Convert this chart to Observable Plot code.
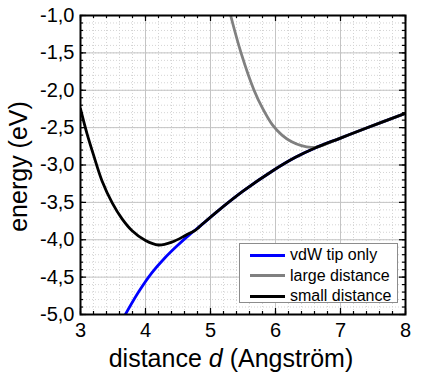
<!DOCTYPE html>
<html><head><meta charset="utf-8">
<script src="https://cdn.jsdelivr.net/npm/d3@7"></script>
<script src="https://cdn.jsdelivr.net/npm/@observablehq/plot@0.6"></script>
<style>
body{margin:0;background:#fff;}
#wrap{position:relative;width:436px;height:378px;font-family:"Liberation Sans",Arial,sans-serif;}
#legend{position:absolute;left:239px;top:243px;width:159px;height:60px;border:1px solid #8c8c8c;background:#fff;box-sizing:border-box;font-size:16px;color:#000;}
.row{position:absolute;left:10px;height:20px;display:flex;align-items:center;white-space:nowrap;}
.sw{width:35px;height:0;border-top:3px solid;margin-right:5px;}
</style></head><body><div id="wrap"></div>
<script>
// ---- data ----
const seriesNames = ["vdW tip only", "large distance", "small distance"];
const seriesColors = ["#0000ff", "#808080", "#000000"];

const blueX = [3.69, 3.9, 4.1, 4.3, 4.5, 4.7, 4.85, 5.12, 5.5, 5.97, 6.3, 6.6, 7.0, 7.4, 8.0];
const blueY = [-5.0, -4.69, -4.44, -4.24, -4.07, -3.915, -3.81, -3.61, -3.35, -3.07, -2.90, -2.775, -2.64, -2.505, -2.31];

const grayX = [5.31, 5.47, 5.67, 5.8, 5.95, 6.1, 6.25, 6.4, 6.55, 6.65, 7.0, 7.4, 8.0];
const grayY = [-1.0, -1.5, -2.0, -2.24, -2.46, -2.6, -2.69, -2.742, -2.765, -2.758, -2.64, -2.505, -2.31];

const blackX = [3.0, 3.1, 3.2, 3.33, 3.49, 3.64, 3.79, 4.0, 4.2, 4.41, 4.62, 4.77, 4.85, 5.12, 5.5, 5.97, 6.3, 6.6, 7.0, 7.4, 8.0];
const blackY = [-2.25, -2.58, -2.865, -3.21, -3.51, -3.72, -3.875, -4.01, -4.07, -4.03, -3.94, -3.87, -3.81, -3.61, -3.35, -3.07, -2.90, -2.775, -2.64, -2.505, -2.31];

const xMajor = [3, 4, 5, 6, 7, 8];
const xTickLabels = ["3", "4", "5", "6", "7", "8"];
const yMajor = [-5, -4.5, -4, -3.5, -3, -2.5, -2, -1.5, -1];
const yTickLabels = ["-5,0", "-4,5", "-4,0", "-3,5", "-3,0", "-2,5", "-2,0", "-1,5", "-1,0"];
const xMinor = d3.range(15, 41).map(i => i / 5);
const yMinor = d3.range(-50, -9).map(i => i / 10);

const xTitleParts = ["distance ", "d", " (Angström)"];
const xTitle = xTitleParts.join("");
const yTitle = "energy (eV)";

// ---- chart ----
const W = 436, H = 378, mL = 80, mR = 31, mT = 15, mB = 64;
const plotW = W - mL - mR, plotH = H - mT - mB;

const toRows = (xs, ys) => xs.map((x, i) => ({x, y: ys[i]}));
const series = [toRows(blueX, blueY), toRows(grayX, grayY), toRows(blackX, blackY)];

const gridMinor = {stroke: "#d4d4d4", strokeDasharray: "1,2", strokeWidth: 1};
const gridMajor = {stroke: "#c4c4c4", strokeWidth: 1};
const tk = {stroke: "black", strokeWidth: 1.2};

const chart = Plot.plot({
  width: W, height: H,
  marginLeft: mL, marginRight: mR, marginTop: mT, marginBottom: mB,
  style: {fontFamily: "'Liberation Sans', Arial, sans-serif", fontSize: "20px", background: "white", color: "black"},
  x: {domain: [3, 8]},
  y: {domain: [-5, -1]},
  marks: [
    Plot.ruleX(xMinor, gridMinor),
    Plot.ruleY(yMinor, gridMinor),
    Plot.ruleX(xMajor, gridMajor),
    Plot.ruleY(yMajor, gridMajor),
    ...series.map((s, i) => Plot.line(s, {x: "x", y: "y", stroke: seriesColors[i], strokeWidth: 2.8, curve: "catmull-rom", clip: true})),
    Plot.frame({stroke: "black", strokeWidth: 2}),
    // inward ticks
    Plot.ruleX(xMinor, {...tk, insetTop: plotH - 3}),
    Plot.ruleX(xMajor, {...tk, insetTop: plotH - 6}),
    Plot.ruleX(xMinor, {...tk, insetBottom: plotH - 3}),
    Plot.ruleX(xMajor, {...tk, insetBottom: plotH - 6}),
    Plot.ruleY(yMinor, {...tk, insetRight: plotW - 3}),
    Plot.ruleY(yMajor, {...tk, insetRight: plotW - 6}),
    Plot.ruleY(yMinor, {...tk, insetLeft: plotW - 3}),
    Plot.ruleY(yMajor, {...tk, insetLeft: plotW - 6}),
    Plot.axisX({ticks: xMajor, tickSize: 0, tickPadding: 8, fontSize: 20, label: null,
      tickFormat: d => xTickLabels[xMajor.indexOf(d)]}),
    Plot.axisY({ticks: yMajor, tickSize: 0, tickPadding: 6, fontSize: 20, label: null,
      tickFormat: d => yTickLabels[yMajor.indexOf(d)]}),
    Plot.text([xTitle], {frameAnchor: "bottom", textAnchor: "middle", dx: -12, dy: 52, lineAnchor: "bottom", fontSize: 25}),
    Plot.text([yTitle], {frameAnchor: "left", textAnchor: "middle", dx: -54, dy: 1.5, rotate: -90, lineAnchor: "bottom", fontSize: 25})
  ]
});

// italic "d" in x title
d3.select(chart).selectAll("text").filter(function () { return this.textContent === xTitle; })
  .each(function () {
    const t = d3.select(this);
    t.text(null);
    xTitleParts.forEach((p, i) => t.append("tspan").attr("font-style", i === 1 ? "italic" : null).text(p));
  });

const wrap = document.getElementById("wrap");
wrap.appendChild(chart);

// legend
const leg = document.createElement("div");
leg.id = "legend";
seriesNames.forEach((n, i) => {
  const r = document.createElement("div");
  r.className = "row";
  r.style.top = (1 + i * 20.5) + "px";
  const sw = document.createElement("span");
  sw.className = "sw";
  sw.style.borderTopColor = seriesColors[i];
  const tx = document.createElement("span");
  tx.textContent = n;
  r.appendChild(sw); r.appendChild(tx);
  leg.appendChild(r);
});
wrap.appendChild(leg);
</script></body></html>
